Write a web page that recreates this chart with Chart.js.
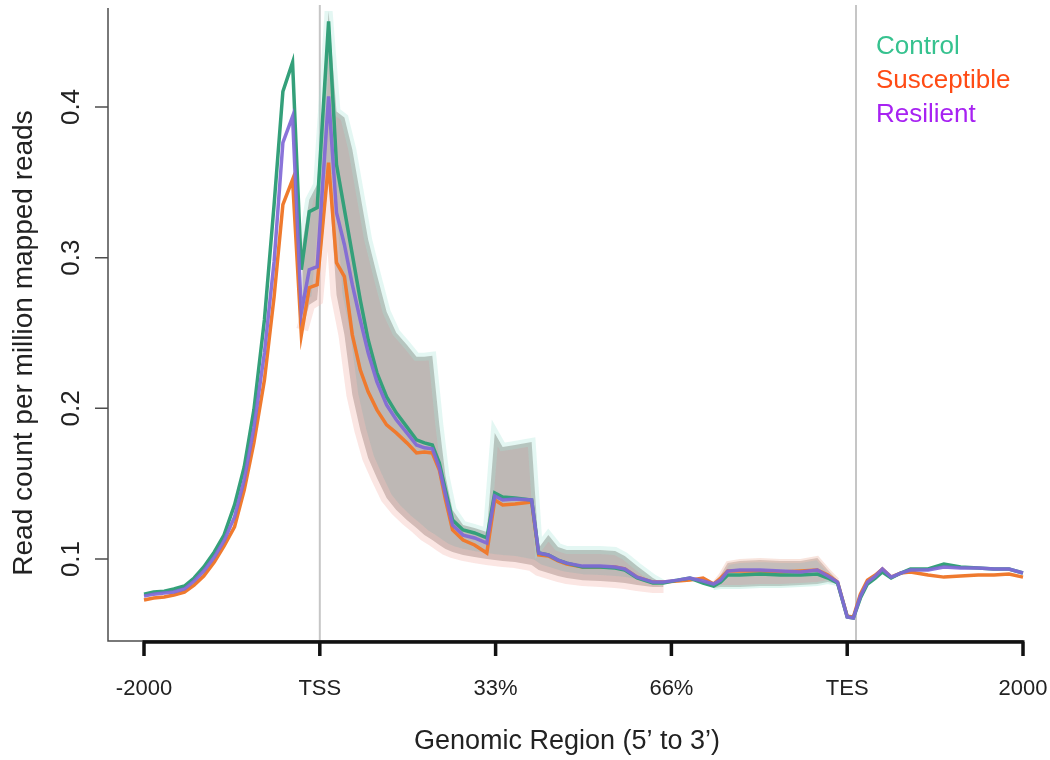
<!DOCTYPE html>
<html>
<head>
<meta charset="utf-8">
<script src="https://cdn.jsdelivr.net/npm/chart.js"></script>
<style>
  html, body { margin: 0; padding: 0; background: #ffffff; }
  #wrap { width: 1050px; height: 760px; }
</style>
</head>
<body>
<div id="wrap"><canvas id="chart" width="1050" height="760"></canvas></div>
<script>
// ---- DATA (x in profile units: 0 = -2000 bp, 20 = TSS, 40 = 33%, 60 = 66%, 80 = TES, 100 = +2000 bp)
const positions = [0, 1.1, 2.3, 3.4, 4.6, 5.7, 6.8, 8.0, 9.1, 10.3, 11.4, 12.5, 13.7, 14.8, 15.8, 16.9, 17.9, 18.8, 19.7, 21.0,
  21.9, 22.8, 23.7, 24.6, 25.5, 26.5, 27.6, 28.7, 29.9, 31.0, 31.9, 32.8, 33.6, 34.3, 35.1, 36.3, 37.6, 39.0, 39.9, 40.8,
  42.2, 44.1, 44.9, 46.0, 47.1, 48.1, 49.9, 51.9, 53.6, 54.7, 56.1, 57.9, 59.1, 60.7, 62.1, 63.6, 64.8, 65.6, 66.4, 67.8,
  70.1, 72.4, 74.7, 76.6, 77.8, 78.9, 80.0, 80.7, 81.5, 82.3, 83.2, 84.0, 85.0, 86.1, 87.2, 89.2, 91.0, 92.9, 94.9, 96.7,
  98.4, 100];

const control = [0.0767, 0.0781, 0.0787, 0.0801, 0.0821, 0.0874, 0.0947, 0.1047, 0.1159, 0.1359,
  0.1611, 0.1990, 0.2588, 0.3352, 0.4103, 0.4296, 0.2920, 0.3306, 0.3332, 0.4568,
  0.3618, 0.3319, 0.3020, 0.2721, 0.2455, 0.2236, 0.2076, 0.1970, 0.1877, 0.1791,
  0.1771, 0.1757, 0.1638, 0.1458, 0.1259, 0.1193, 0.1173, 0.1140, 0.1439, 0.1412,
  0.1405, 0.1392, 0.1040, 0.1027, 0.0993, 0.0973, 0.0947, 0.0947, 0.0940, 0.0927,
  0.0874, 0.0841, 0.0841, 0.0860, 0.0874, 0.0841, 0.0821, 0.0847, 0.0894, 0.0894,
  0.0900, 0.0894, 0.0894, 0.0900, 0.0874, 0.0841, 0.0615, 0.0608, 0.0741, 0.0834,
  0.0874, 0.0914, 0.0874, 0.0907, 0.0934, 0.0934, 0.0967, 0.0947, 0.0940, 0.0934,
  0.0934, 0.0907];

const susceptible = [0.0728, 0.0741, 0.0748, 0.0761, 0.0781, 0.0827, 0.0887, 0.0980, 0.1086, 0.1213,
  0.1458, 0.1771, 0.2189, 0.2741, 0.3352, 0.3518, 0.2488, 0.2801, 0.2821, 0.3631,
  0.2967, 0.2874, 0.2488, 0.2256, 0.2110, 0.1990, 0.1890, 0.1837, 0.1771, 0.1704,
  0.1711, 0.1704, 0.1591, 0.1392, 0.1193, 0.1126, 0.1093, 0.1040, 0.1392, 0.1359,
  0.1365, 0.1379, 0.1027, 0.1020, 0.0987, 0.0967, 0.0947, 0.0947, 0.0947, 0.0934,
  0.0880, 0.0847, 0.0847, 0.0854, 0.0860, 0.0874, 0.0834, 0.0874, 0.0920, 0.0920,
  0.0920, 0.0914, 0.0920, 0.0927, 0.0894, 0.0847, 0.0621, 0.0615, 0.0767, 0.0860,
  0.0894, 0.0934, 0.0880, 0.0907, 0.0914, 0.0894, 0.0880, 0.0887, 0.0894, 0.0894,
  0.0900, 0.0880];

const resilient = [0.0754, 0.0767, 0.0774, 0.0781, 0.0801, 0.0854, 0.0920, 0.1013, 0.1120, 0.1279,
  0.1525, 0.1870, 0.2369, 0.2973, 0.3764, 0.3937, 0.2635, 0.2920, 0.2940, 0.4070,
  0.3299, 0.3086, 0.2821, 0.2588, 0.2369, 0.2176, 0.2023, 0.1924, 0.1837, 0.1757,
  0.1738, 0.1731, 0.1605, 0.1425, 0.1226, 0.1159, 0.1140, 0.1106, 0.1419, 0.1392,
  0.1399, 0.1392, 0.1040, 0.1027, 0.0993, 0.0973, 0.0953, 0.0953, 0.0947, 0.0934,
  0.0880, 0.0847, 0.0847, 0.0860, 0.0874, 0.0854, 0.0834, 0.0860, 0.0920, 0.0927,
  0.0927, 0.0920, 0.0914, 0.0927, 0.0887, 0.0847, 0.0615, 0.0608, 0.0754, 0.0847,
  0.0887, 0.0934, 0.0880, 0.0907, 0.0927, 0.0927, 0.0947, 0.0940, 0.0940, 0.0934,
  0.0934, 0.0907];

// confidence envelope (union of group intervals), TSS / gene-body region
const bandX1 = [18.0, 18.8, 19.7, 21.0, 21.9, 22.8, 23.7, 24.6, 25.5, 26.5, 27.6, 28.7, 29.9, 31.0, 31.9, 32.8, 33.6, 34.3, 35.1,
  36.3, 37.6, 39.0, 39.9, 40.8, 42.2, 44.1, 44.9, 46.0, 47.1, 48.1, 49.9, 51.9, 53.6, 54.7, 56.1, 57.9, 59.1];
const bandHi1 = [0.3086, 0.3385, 0.3485, 0.4635, 0.3970, 0.3930, 0.3718, 0.3419, 0.3120, 0.2887,
  0.2641, 0.2502, 0.2422, 0.2342, 0.2342, 0.2349, 0.1890, 0.1551, 0.1326, 0.1226,
  0.1206, 0.1179, 0.1837, 0.1744, 0.1757, 0.1777, 0.1073, 0.1159, 0.1080, 0.1060,
  0.1060, 0.1060, 0.1053, 0.1020, 0.0953, 0.0874, 0.0834];
const bandLo1 = [0.2522, 0.2688, 0.2721, 0.3552, 0.2754, 0.2488, 0.2090, 0.1857, 0.1671, 0.1538,
  0.1405, 0.1326, 0.1259, 0.1206, 0.1159, 0.1126, 0.1093, 0.1066, 0.1047, 0.1027,
  0.1013, 0.1000, 0.0993, 0.0987, 0.0980, 0.0960, 0.0927, 0.0907, 0.0887, 0.0874,
  0.0860, 0.0854, 0.0847, 0.0841, 0.0827, 0.0814, 0.0814];
// envelope, late gene-body region
const bandX2 = [64.8, 65.6, 66.4, 67.8, 70.1, 72.4, 74.7, 76.6, 77.8, 78.9];
const bandHi2 = [0.0834, 0.0894, 0.0973, 0.0987, 0.0993, 0.0987, 0.0987, 0.1007, 0.0927, 0.0860];
const bandLo2 = [0.0807, 0.0814, 0.0814, 0.0814, 0.0821, 0.0821, 0.0827, 0.0834, 0.0847, 0.0834];

const xTickValues = [0, 20, 40, 60, 80, 100];
const xTickLabels = ['-2000', 'TSS', '33%', '66%', 'TES', '2000'];
const yTickValues = [0.1, 0.2, 0.3, 0.4];
const markerLines = [20, 81.0];
const seriesNames = ['Control', 'Susceptible', 'Resilient'];
const legendColors = ['#36c28f', '#ff4b14', '#a722f2'];
const lineColors = ['#34a07a', '#ef7a2e', 'rgba(128,104,214,0.92)'];

// ---- CHART
const FAMILY = '"Liberation Sans", Arial, Helvetica, sans-serif';
const TEXT = '#222222';
const pts = (xs, ys) => xs.map((x, i) => ({ x: x, y: ys[i] }));

const decor = {
  id: 'decor',
  beforeDraw(chart) {
    const { ctx, chartArea: a, scales: { x } } = chart;
    ctx.save();
    ctx.strokeStyle = '#c6c6c6';
    ctx.lineWidth = 2;
    markerLines.forEach(v => {
      const px = x.getPixelForValue(v);
      ctx.beginPath(); ctx.moveTo(px, a.top); ctx.lineTo(px, a.bottom); ctx.stroke();
    });
    ctx.restore();
  },
  afterDraw(chart) {
    const { ctx, chartArea: a, scales: { x, y } } = chart;
    const xEnd = x.getPixelForValue(xTickValues[xTickValues.length - 1]);
    const xStart = x.getPixelForValue(xTickValues[0]);
    ctx.save();
    // thin left axis + bottom frame line
    ctx.strokeStyle = '#4d4d4d';
    ctx.lineWidth = 1.5;
    ctx.beginPath();
    ctx.moveTo(a.left, a.top + 3); ctx.lineTo(a.left, a.bottom); ctx.lineTo(xEnd, a.bottom);
    yTickValues.forEach(v => {
      const py = y.getPixelForValue(v);
      ctx.moveTo(a.left - 13, py); ctx.lineTo(a.left, py);
    });
    ctx.stroke();
    // thick bottom axis with ticks
    ctx.strokeStyle = '#111111';
    ctx.lineWidth = 3.5;
    ctx.beginPath();
    ctx.moveTo(xStart - 1.5, a.bottom + 1); ctx.lineTo(xEnd + 1.5, a.bottom + 1);
    xTickValues.forEach(v => {
      const px = x.getPixelForValue(v);
      ctx.moveTo(px, a.bottom + 1); ctx.lineTo(px, a.bottom + 15);
    });
    ctx.stroke();
    // y tick labels (rotated)
    ctx.fillStyle = TEXT;
    ctx.textAlign = 'center';
    ctx.textBaseline = 'middle';
    ctx.font = '26px ' + FAMILY;
    yTickValues.forEach(v => {
      const py = y.getPixelForValue(v);
      ctx.save(); ctx.translate(72, py); ctx.rotate(-Math.PI / 2);
      ctx.fillText(v.toFixed(1), 0, 0); ctx.restore();
    });
    // y title
    ctx.font = '28px ' + FAMILY;
    ctx.save(); ctx.translate(24, (a.top + a.bottom) / 2 + 20); ctx.rotate(-Math.PI / 2);
    ctx.fillText('Read count per million mapped reads', 0, 0); ctx.restore();
    // legend
    ctx.textAlign = 'left';
    ctx.font = '26px ' + FAMILY;
    seriesNames.forEach((n, i) => {
      ctx.fillStyle = legendColors[i];
      ctx.fillText(n, 876, 47 + i * 34);
    });
    ctx.restore();
  }
};

const halo = (c, w) => ({ borderColor: c, borderWidth: w, pointRadius: 0, tension: 0 });

new Chart(document.getElementById('chart'), {
  type: 'line',
  data: {
    datasets: [
      Object.assign({ label: 'envHi1', data: pts(bandX1, bandHi1), fill: false, order: 10 }, halo('rgba(165,230,214,0.3)', 8)),
      Object.assign({ label: 'envLo1', data: pts(bandX1, bandLo1), fill: '-1', backgroundColor: 'rgba(186,180,177,0.95)', order: 9 }, halo('rgba(245,192,186,0.4)', 12)),
      Object.assign({ label: 'envHi2', data: pts(bandX2, bandHi2), fill: false, order: 8 }, halo('rgba(240,195,180,0.45)', 4)),
      Object.assign({ label: 'envLo2', data: pts(bandX2, bandLo2), fill: '-1', backgroundColor: 'rgba(190,182,178,0.9)', order: 7 }, halo('rgba(170,230,214,0.4)', 4)),
      { label: seriesNames[1], data: pts(positions, susceptible), borderColor: lineColors[1], borderWidth: 3.5, pointRadius: 0, tension: 0, fill: false, order: 3 },
      { label: seriesNames[0], data: pts(positions, control), borderColor: lineColors[0], borderWidth: 3.5, pointRadius: 0, tension: 0, fill: false, order: 2 },
      { label: seriesNames[2], data: pts(positions, resilient), borderColor: lineColors[2], borderWidth: 3.5, pointRadius: 0, tension: 0, fill: false, order: 1 }
    ]
  },
  options: {
    responsive: false,
    animation: false,
    devicePixelRatio: 1,
    layout: { padding: { left: 108, top: 5, right: 24, bottom: 0 } },
    plugins: {
      legend: { display: false },
      tooltip: { enabled: false },
      filler: { drawTime: 'beforeDatasetsDraw' }
    },
    scales: {
      x: {
        type: 'linear',
        min: -4.096,
        max: 100.34,
        grid: { display: false, drawTicks: false },
        border: { display: false },
        afterBuildTicks: s => { s.ticks = xTickValues.map(v => ({ value: v })); },
        afterFit: s => { s.height = 119; s.paddingLeft = 0; s.paddingRight = 0; },
        ticks: {
          autoSkip: false, maxRotation: 0, minRotation: 0, padding: 35,
          font: { family: FAMILY, size: 22 }, color: TEXT,
          callback: (v, i) => xTickLabels[i]
        },
        title: {
          display: true, text: 'Genomic Region (5’ to 3’)',
          font: { family: FAMILY, size: 27 }, color: TEXT,
          padding: { top: 0, bottom: 2 }
        }
      },
      y: {
        type: 'linear',
        display: false,
        min: 0.0456,
        max: 0.4677
      }
    }
  },
  plugins: [decor]
});
</script>
</body>
</html>
